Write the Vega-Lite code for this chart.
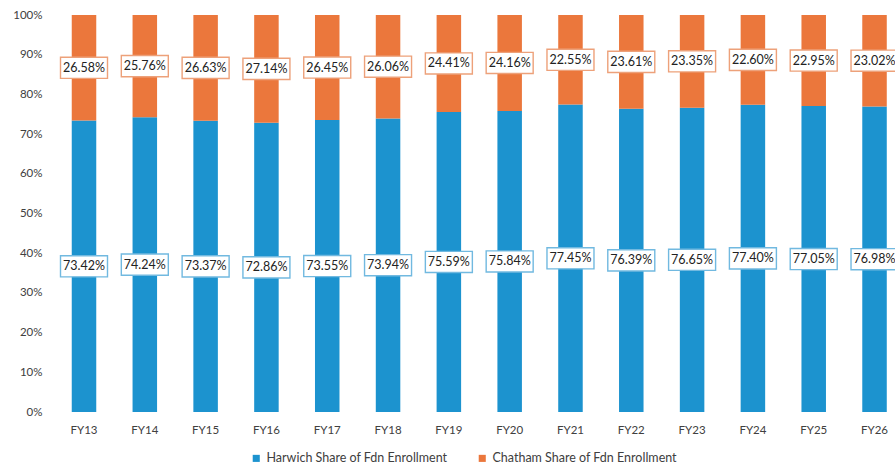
{
  "$schema": "https://vega.github.io/schema/vega-lite/v6.json",
  "width": 843,
  "height": 397,
  "autosize": {"type": "none"},
  "padding": {"left": 52, "top": 15, "right": 0, "bottom": 55},
  "config": {
    "view": {"stroke": null},
    "font": "Lato",
    "axis": {"labelFont": "Lato", "labelColor": "#404040", "labelFontSize": 11.5},
    "axisY": {"ticks": false, "domain": false, "grid": false, "labelPadding": 10, "labelOverlap": false, "format": "%", "title": null},
    "legend": {"labelFont": "Lato", "labelColor": "#404040", "labelFontSize": 12.5, "labelLimit": 0}
  },
  "data": {
    "values": [
      {"year": "FY13", "series": "Harwich Share of Fdn Enrollment", "value": 0.7342},
      {"year": "FY13", "series": "Chatham Share of Fdn Enrollment", "value": 0.2658},
      {"year": "FY14", "series": "Harwich Share of Fdn Enrollment", "value": 0.7424},
      {"year": "FY14", "series": "Chatham Share of Fdn Enrollment", "value": 0.2576},
      {"year": "FY15", "series": "Harwich Share of Fdn Enrollment", "value": 0.7337},
      {"year": "FY15", "series": "Chatham Share of Fdn Enrollment", "value": 0.2663},
      {"year": "FY16", "series": "Harwich Share of Fdn Enrollment", "value": 0.7286},
      {"year": "FY16", "series": "Chatham Share of Fdn Enrollment", "value": 0.2714},
      {"year": "FY17", "series": "Harwich Share of Fdn Enrollment", "value": 0.7355},
      {"year": "FY17", "series": "Chatham Share of Fdn Enrollment", "value": 0.2645},
      {"year": "FY18", "series": "Harwich Share of Fdn Enrollment", "value": 0.7394},
      {"year": "FY18", "series": "Chatham Share of Fdn Enrollment", "value": 0.2606},
      {"year": "FY19", "series": "Harwich Share of Fdn Enrollment", "value": 0.7559},
      {"year": "FY19", "series": "Chatham Share of Fdn Enrollment", "value": 0.2441},
      {"year": "FY20", "series": "Harwich Share of Fdn Enrollment", "value": 0.7584},
      {"year": "FY20", "series": "Chatham Share of Fdn Enrollment", "value": 0.2416},
      {"year": "FY21", "series": "Harwich Share of Fdn Enrollment", "value": 0.7745},
      {"year": "FY21", "series": "Chatham Share of Fdn Enrollment", "value": 0.2255},
      {"year": "FY22", "series": "Harwich Share of Fdn Enrollment", "value": 0.7639},
      {"year": "FY22", "series": "Chatham Share of Fdn Enrollment", "value": 0.2361},
      {"year": "FY23", "series": "Harwich Share of Fdn Enrollment", "value": 0.7665},
      {"year": "FY23", "series": "Chatham Share of Fdn Enrollment", "value": 0.2335},
      {"year": "FY24", "series": "Harwich Share of Fdn Enrollment", "value": 0.7740},
      {"year": "FY24", "series": "Chatham Share of Fdn Enrollment", "value": 0.2260},
      {"year": "FY25", "series": "Harwich Share of Fdn Enrollment", "value": 0.7705},
      {"year": "FY25", "series": "Chatham Share of Fdn Enrollment", "value": 0.2295},
      {"year": "FY26", "series": "Harwich Share of Fdn Enrollment", "value": 0.7698},
      {"year": "FY26", "series": "Chatham Share of Fdn Enrollment", "value": 0.2302}
    ]
  },
  "transform": [
    {"stack": "value", "groupby": ["year"], "sort": [{"field": "series", "order": "descending"}], "as": ["y0", "y1"]},
    {"calculate": "(datum.y0 + datum.y1) / 2", "as": "mid"}
  ],
  "encoding": {
    "x": {
      "field": "year",
      "type": "nominal",
      "sort": null,
      "scale": {"paddingInner": 0.597, "paddingOuter": 0.23, "align": 0.706},
      "axis": {"title": null, "labelAngle": 0, "ticks": false, "domain": false, "labelPadding": 12}
    }
  },
  "layer": [
    {
      "mark": {"type": "bar"},
      "encoding": {
        "y": {
          "field": "y0",
          "type": "quantitative",
          "scale": {"domain": [0, 1], "nice": false},
          "axis": {"values": [0, 0.1, 0.2, 0.3, 0.4, 0.5, 0.6, 0.7, 0.8, 0.9, 1]}
        },
        "y2": {"field": "y1"},
        "color": {
          "field": "series",
          "type": "nominal",
          "sort": ["Harwich Share of Fdn Enrollment", "Chatham Share of Fdn Enrollment"],
          "scale": {
            "domain": ["Harwich Share of Fdn Enrollment", "Chatham Share of Fdn Enrollment"],
            "range": ["#1c93cf", "#eb773c"]
          },
          "legend": {
            "title": null,
            "orient": "none",
            "legendX": 198,
            "legendY": 437,
            "direction": "horizontal",
            "symbolType": "square",
            "symbolSize": 50,
            "symbolStrokeWidth": 0,
            "columnPadding": 28,
            "labelOffset": 4
          }
        }
      }
    },
    {
      "mark": {"type": "point", "shape": "M-1,-0.45H1V0.45H-1Z", "size": 2209, "filled": true, "fill": "white", "strokeWidth": 1.4, "opacity": 1},
      "encoding": {
        "y": {
          "field": "mid",
          "type": "quantitative",
          "scale": {"domain": [0, 1], "nice": false},
          "axis": {"values": [0, 0.1, 0.2, 0.3, 0.4, 0.5, 0.6, 0.7, 0.8, 0.9, 1]}
        },
        "stroke": {
          "field": "series",
          "type": "nominal",
          "scale": {
            "domain": ["Harwich Share of Fdn Enrollment", "Chatham Share of Fdn Enrollment"],
            "range": ["#71b9e0", "#eda17a"]
          },
          "legend": null
        }
      }
    },
    {
      "mark": {"type": "text", "fontSize": 12.5, "color": "#222222", "baseline": "middle"},
      "encoding": {
        "y": {
          "field": "mid",
          "type": "quantitative",
          "scale": {"domain": [0, 1], "nice": false},
          "axis": {"values": [0, 0.1, 0.2, 0.3, 0.4, 0.5, 0.6, 0.7, 0.8, 0.9, 1]}
        },
        "text": {"field": "value", "type": "quantitative", "format": ".2%"}
      }
    }
  ]
}
